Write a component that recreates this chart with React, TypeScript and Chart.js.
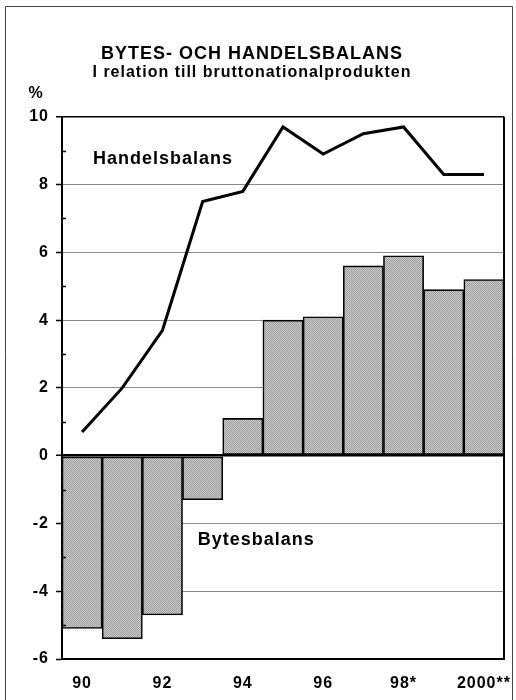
import React, { useEffect, useRef } from "react";
import { Chart, registerables } from "chart.js";

Chart.register(...registerables);

const years = ["90", "91", "92", "93", "94", "95", "96", "97", "98*", "99", "2000**"];
const bytesbalans = [-5.1, -5.4, -4.7, -1.3, 1.1, 4.0, 4.1, 5.6, 5.9, 4.9, 5.2];
const handelsbalans = [0.7, 2.0, 3.7, 7.5, 7.8, 9.7, 8.9, 9.5, 9.7, 8.3, 8.3];
const titleText = "BYTES- OCH HANDELSBALANS";
const subtitleText = "I relation till bruttonationalprodukten";
const unitText = "%";
const seriesLabels = ["Handelsbalans", "Bytesbalans"];

const FONT = "'Liberation Sans', Arial, Helvetica, sans-serif";
const SPACING = "1px";

function makePattern(): CanvasPattern | string {
  const c = document.createElement("canvas");
  c.width = 4;
  c.height = 4;
  const g = c.getContext("2d");
  if (!g) return "#b4b4b4";
  g.fillStyle = "#cacaca";
  g.fillRect(0, 0, 4, 4);
  g.fillStyle = "#9e9e9e";
  for (let y = 0; y < 4; y++) {
    for (let x = 0; x < 4; x++) {
      if ((x + y) % 2 === 0) g.fillRect(x, y, 1, 1);
    }
  }
  const p = g.createPattern(c, "repeat");
  return p || "#b4b4b4";
}

const decorPlugin = {
  id: "decor",
  beforeDraw(chart: any) {
    const ctx = chart.ctx;
    ctx.save();
    ctx.strokeStyle = "#444";
    ctx.lineWidth = 1;
    ctx.beginPath();
    ctx.moveTo(5.5, chart.height + 2);
    ctx.lineTo(5.5, 6.5);
    ctx.lineTo(512.5, 6.5);
    ctx.lineTo(512.5, chart.height + 2);
    ctx.stroke();
    ctx.restore();
    (ctx as any).letterSpacing = SPACING;
  },
  afterDraw(chart: any) {
    const ctx = chart.ctx;
    const { chartArea } = chart;
    const x = chart.scales.x;
    const y = chart.scales.y;
    ctx.save();
    (ctx as any).letterSpacing = SPACING;
    // right border
    ctx.strokeStyle = "#000";
    ctx.lineWidth = 2;
    ctx.beginPath();
    ctx.moveTo(chartArea.right, chartArea.top);
    ctx.lineTo(chartArea.right, chartArea.bottom);
    ctx.stroke();
    // minor ticks (odd values), pointing inward
    ctx.lineWidth = 1.5;
    for (let v = y.min + 1; v < y.max; v += 2) {
      const py = Math.round(y.getPixelForValue(v)) + 0.5;
      ctx.beginPath();
      ctx.moveTo(chartArea.left, py);
      ctx.lineTo(chartArea.left + 4, py);
      ctx.stroke();
    }
    // unit label
    ctx.fillStyle = "#000";
    ctx.font = `bold 16px ${FONT}`;
    ctx.textAlign = "center";
    ctx.textBaseline = "middle";
    ctx.fillText(unitText, 36, chartArea.top - 23);
    // series annotations
    ctx.font = `bold 18px ${FONT}`;
    ctx.textAlign = "left";
    ctx.fillText(seriesLabels[0], x.getPixelForValue(0.27), y.getPixelForValue(8.74));
    ctx.fillText(seriesLabels[1], x.getPixelForValue(2.88), y.getPixelForValue(-2.48));
    ctx.restore();
    (ctx as any).letterSpacing = "0px";
  },
};

export default function App() {
  const ref = useRef<HTMLCanvasElement>(null);

  useEffect(() => {
    document.body.style.margin = "0";
    const canvas = ref.current;
    if (!canvas) return;
    const pattern = makePattern();
    const chart = new Chart(canvas, {
      type: "bar",
      data: {
        labels: years,
        datasets: [
          {
            type: "line",
            label: seriesLabels[0],
            data: handelsbalans,
            borderColor: "#000",
            borderWidth: 3,
            pointRadius: 0,
            tension: 0,
            fill: false,
            order: 0,
          } as any,
          {
            type: "bar",
            label: seriesLabels[1],
            data: bytesbalans,
            backgroundColor: pattern as any,
            borderColor: "#000",
            borderWidth: 1.6,
            borderSkipped: false,
            barPercentage: 1,
            categoryPercentage: 1,
            order: 1,
          },
        ],
      },
      options: {
        responsive: false,
        animation: false,
        devicePixelRatio: 1,
        layout: { padding: { left: 0, right: 12, top: 0, bottom: 7 } },
        plugins: {
          legend: { display: false },
          tooltip: { enabled: false },
          title: {
            display: true,
            text: titleText,
            color: "#000",
            font: { family: FONT, size: 18, weight: "bold", lineHeight: 1.2 },
            padding: { top: 43, bottom: 0 },
          },
          subtitle: {
            display: true,
            text: subtitleText,
            color: "#000",
            font: { family: FONT, size: 16, weight: "bold", lineHeight: 1.2 },
            padding: { top: -2, bottom: 35 },
          },
        },
        scales: {
          x: {
            type: "category",
            grid: { display: false, drawTicks: false },
            border: { display: true, color: "#000", width: 2 },
            ticks: {
              autoSkip: false,
              maxRotation: 0,
              color: "#000",
              padding: 15,
              font: { family: FONT, size: 16, weight: "bold" },
              callback: (_v: any, i: number) => (i % 2 === 0 ? years[i] : ""),
            },
            afterFit: (scale: any) => {
              scale.height = 34;
              scale.paddingLeft = 0;
              scale.paddingRight = 0;
            },
          },
          y: {
            min: -6,
            max: 10,
            ticks: {
              stepSize: 2,
              color: "#000",
              padding: 7,
              font: { family: FONT, size: 16, weight: "bold" },
            },
            grid: {
              color: (c: any) => {
                const v = c.tick ? c.tick.value : 0;
                if (v === 0 || v === 10 || v === -6) return "#000";
                return "#8a8a8a";
              },
              lineWidth: (c: any) => {
                const v = c.tick ? c.tick.value : 0;
                if (v === 0) return 2.5;
                if (v === 10) return 1.5;
                return 1;
              },
              tickColor: "#000",
              tickLength: 6,
              tickWidth: 1.5,
            },
            border: { display: true, color: "#000", width: 2 },
            afterFit: (scale: any) => {
              scale.width = 62;
              scale.paddingTop = 0;
              scale.paddingBottom = 0;
            },
          },
        },
      },
      plugins: [decorPlugin],
    });
    return () => chart.destroy();
  }, []);

  return (
    <div style={{ width: 516, height: 700, background: "#fff" }}>
      <canvas ref={ref} width={516} height={700} style={{ display: "block" }} />
    </div>
  );
}
